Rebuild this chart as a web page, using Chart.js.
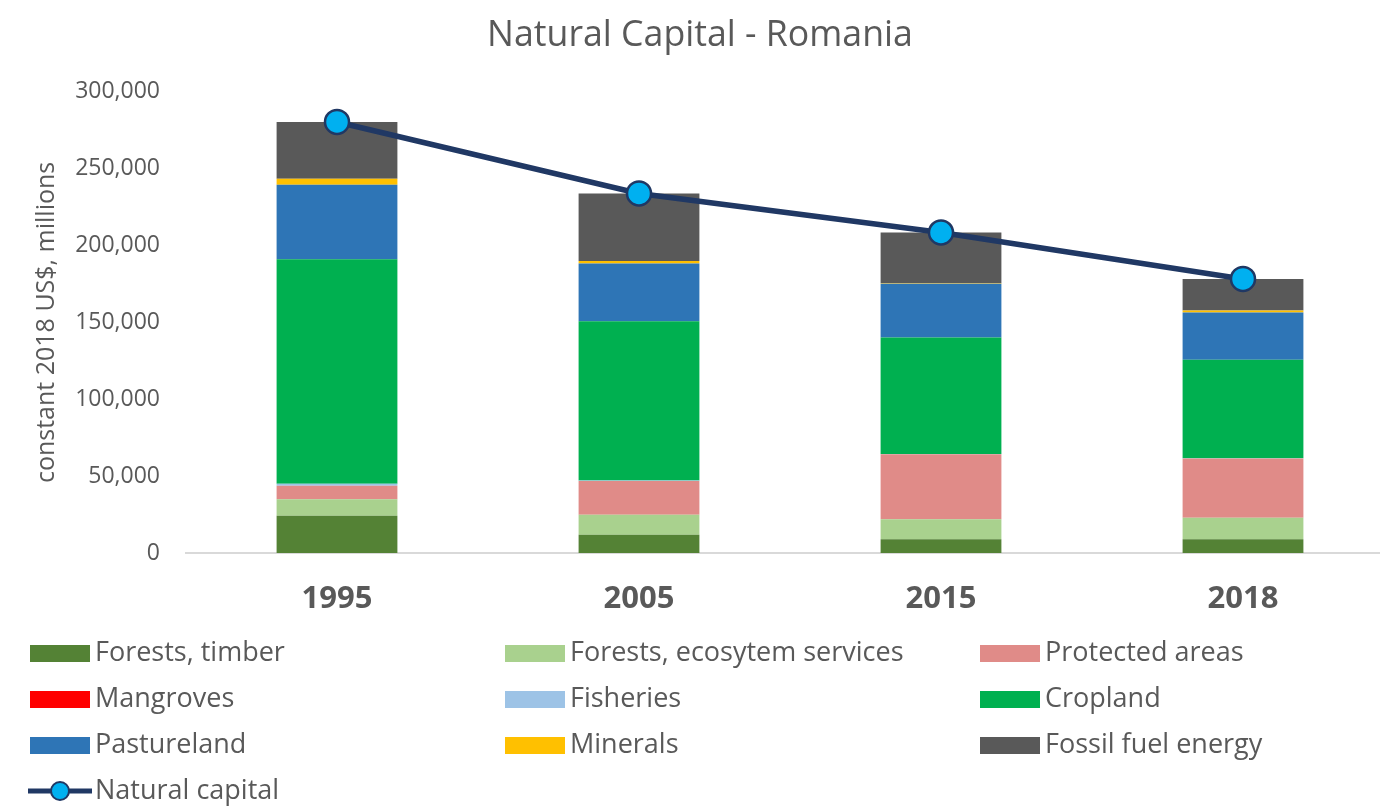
<!DOCTYPE html>
<html>
<head>
<meta charset="utf-8">
<title>Natural Capital - Romania</title>
<script src="https://cdn.jsdelivr.net/npm/chart.js@4.4.1/dist/chart.umd.min.js"></script>
<style>
  html, body { margin: 0; padding: 0; background: #fff; overflow: hidden; }
  #wrap { position: relative; width: 1400px; height: 806px; }
</style>
</head>
<body>
<div id="wrap"><canvas id="natCap"></canvas></div>
<script>
// years on the x axis
const years = ['1995', '2005', '2015', '2018'];

// asset values, constant 2018 US$ millions
const forestsTimber = [24200, 11900, 9000, 9000];
const forestsEco = [10700, 13000, 13000, 13900];
const protectedAreas = [8900, 21900, 42200, 38500];
const mangroves = [0, 0, 0, 0];
const fisheries = [1300, 300, 200, 200];
const cropland = [146000, 103700, 75800, 64100];
const pastureland = [48500, 37600, 35000, 30800];
const minerals = [3900, 1500, 300, 1300];
const fossilFuel = [36900, 44000, 33000, 20500];
// total of all the above
const naturalCapital = [280400, 233900, 208500, 178300];

const yTicks = [0, 50000, 100000, 150000, 200000, 250000, 300000];

const textGrey = '#595959';
const FONT = '"Open Sans", "Noto Sans", sans-serif';

function barSet(label, data, color) {
  return {
    type: 'bar',
    label: label,
    data: data,
    backgroundColor: color,
    borderWidth: 0,
    barPercentage: 0.4,
    categoryPercentage: 1.0,
    order: 1
  };
}

// legend in a 3 column grid under the chart
const gridLegend = {
  id: 'gridLegend',
  afterDraw(chart) {
    const ctx = chart.ctx;
    const colX = [30, 505, 980];
    const rowY = [653, 699, 745, 791];
    ctx.save();
    ctx.font = '27px ' + FONT;
    ctx.textBaseline = 'middle';
    ctx.textAlign = 'left';
    chart.data.datasets.forEach((ds, i) => {
      const x = colX[i % 3];
      const y = rowY[Math.floor(i / 3)];
      if (ds.type === 'line') {
        ctx.strokeStyle = ds.borderColor;
        ctx.lineWidth = 5;
        ctx.beginPath();
        ctx.moveTo(x - 2, y);
        ctx.lineTo(x + 62, y);
        ctx.stroke();
        ctx.beginPath();
        ctx.arc(x + 30, y, 9, 0, Math.PI * 2);
        ctx.fillStyle = ds.pointBackgroundColor;
        ctx.fill();
        ctx.lineWidth = 2;
        ctx.stroke();
      } else {
        ctx.fillStyle = ds.backgroundColor;
        ctx.fillRect(x, y - 8, 60, 17);
      }
      ctx.fillStyle = textGrey;
      ctx.fillText(ds.label, x + 65, y);
    });
    ctx.restore();
  }
};

const chart = new Chart(document.getElementById('natCap'), {
  data: {
    labels: years,
    datasets: [
      barSet('Forests, timber', forestsTimber, '#548235'),
      barSet('Forests, ecosytem services', forestsEco, '#A9D18E'),
      barSet('Protected areas', protectedAreas, '#E08B88'),
      barSet('Mangroves', mangroves, '#FF0000'),
      barSet('Fisheries', fisheries, '#9DC3E6'),
      barSet('Cropland', cropland, '#00B050'),
      barSet('Pastureland', pastureland, '#2E75B6'),
      barSet('Minerals', minerals, '#FFC000'),
      barSet('Fossil fuel energy', fossilFuel, '#595959'),
      {
        type: 'line',
        label: 'Natural capital',
        data: naturalCapital,
        stack: 'total',
        borderColor: '#203864',
        borderWidth: 5.5,
        pointRadius: 12,
        pointBorderWidth: 2.5,
        pointBackgroundColor: '#00B0F0',
        pointBorderColor: '#203864',
        tension: 0,
        order: 0
      }
    ]
  },
  options: {
    responsive: true,
    maintainAspectRatio: false,
    animation: false,
    devicePixelRatio: 1,
    layout: { autoPadding: false, padding: { left: 6, right: 6, top: 0, bottom: 183 } },
    plugins: {
      legend: { display: false },
      tooltip: { enabled: false },
      title: {
        display: true,
        text: 'Natural Capital - Romania',
        color: textGrey,
        font: { family: FONT, size: 35.7, weight: 'normal', lineHeight: 1.2 },
        padding: { top: 14, bottom: 35 }
      }
    },
    scales: {
      x: {
        stacked: true,
        grid: { display: false, drawTicks: false },
        border: { display: true, color: '#D9D9D9', width: 2 },
        ticks: {
          color: textGrey,
          padding: 28,
          font: { family: FONT, size: 31, weight: 'bold' }
        },
        afterFit(scale) { scale.height = 70; }
      },
      y: {
        stacked: true,
        min: 0,
        max: 300000,
        grid: { display: false, drawTicks: false },
        border: { display: false },
        afterBuildTicks(scale) {
          scale.ticks = yTicks.map(v => ({ value: v }));
        },
        ticks: {
          color: textGrey,
          padding: 26,
          font: { family: FONT, size: 23 },
          callback: v => v.toLocaleString('en-US')
        },
        title: {
          display: true,
          text: 'constant 2018 US$, millions',
          color: textGrey,
          font: { family: FONT, size: 25 },
          padding: { top: 26, bottom: 0 }
        },
        afterFit(scale) { scale.width = 180; }
      }
    }
  },
  plugins: [gridLegend]
});
</script>
</body>
</html>
